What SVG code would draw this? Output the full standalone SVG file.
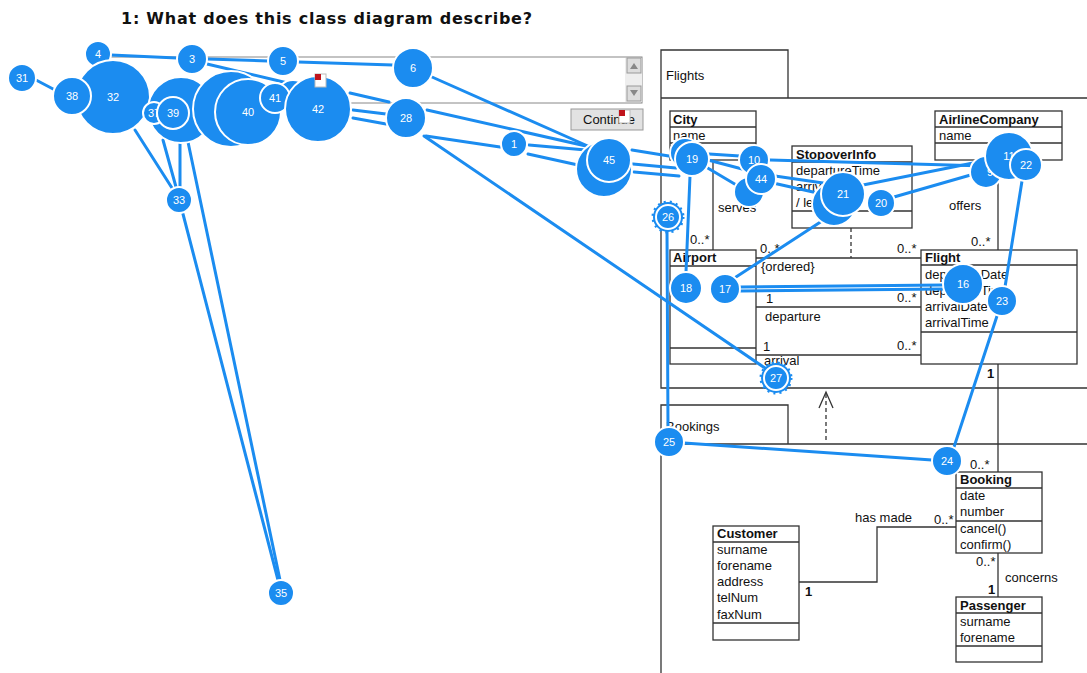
<svg xmlns="http://www.w3.org/2000/svg" width="1087" height="673" viewBox="0 0 1087 673">
<style>
.t{font-family:"Liberation Sans",Arial,sans-serif;font-size:13px;fill:#111}
.b{font-weight:bold}
.box{fill:#fff;stroke:#333;stroke-width:1.3}
.ln{fill:none;stroke:#333;stroke-width:1.3}
.sac{fill:none;stroke:#1b8cf0;stroke-width:3;stroke-linecap:round}
.fx{fill:#1b8cf0;stroke:#fff;stroke-width:2}
.fl{font-family:"Liberation Sans",Arial,sans-serif;font-size:11px;fill:#fff;text-anchor:middle}
</style>
<rect width="1087" height="673" fill="#fff"/>
<text x="121" y="24" font-family="DejaVu Sans,Verdana,sans-serif" font-weight="bold" font-size="16" fill="#111" textLength="411">1: What does this class diagram describe?</text>

<g id="answer-box">
<rect x="95" y="57" width="547" height="46" fill="#fff" stroke="#888" stroke-width="1"/>
<rect x="625" y="58" width="17" height="44" fill="#eee"/>
<rect x="627" y="58" width="14" height="15" fill="#ddd" stroke="#999"/>
<path d="M630,69 L634,63 L638,69 Z" fill="#888"/>
<rect x="627" y="86" width="14" height="15" fill="#ddd" stroke="#999"/>
<path d="M630,90 L634,96 L638,90 Z" fill="#888"/>
</g>
<g id="continue-button">
<rect x="571" y="109" width="72" height="21" fill="#e2e2e2" stroke="#999"/>
<text x="583" y="124" class="t">Continue</text>
<rect x="619" y="110" width="11" height="13" fill="#fff" stroke="#bbb"/>
<rect x="619" y="110" width="6" height="6" fill="#c0141c"/>
</g>

<g id="package-flights">
<path class="ln" d="M661,98 V50 H788 V98"/>
<path class="ln" d="M661,98 H1087 M661,98 V388 H1087"/>
<text x="666" y="80" class="t">Flights</text>
</g>
<g id="package-bookings">
<path class="ln" d="M661,444 V405 H788 V444"/>
<path class="ln" d="M661,444 H1087 M661,444 V673"/>
<text x="666" y="431" class="t">Bookings</text>
</g>

<g id="connectors">
<path class="ln" d="M713,160 V250"/>
<path class="ln" d="M998,160 V250"/>
<path class="ln" d="M756,258 H921 M756,307 H921 M756,355 H921"/>
<path class="ln" d="M851,228 V258" stroke-dasharray="4,3"/>
<path class="ln" d="M998,364 V472"/>
<path class="ln" d="M826,440 V392" stroke-dasharray="4,3"/>
<path class="ln" d="M819,408 L826,392 L833,408"/>
<path class="ln" d="M799,582 H877 V527 H956"/>
<path class="ln" d="M998,553 V597"/>
<text x="718" y="212" class="t">serves</text>
<text x="690" y="244" class="t">0..*</text>
<text x="949" y="210" class="t">offers</text>
<text x="971" y="246" class="t">0..*</text>
<text x="760" y="253" class="t">0..*</text>
<text x="897" y="253" class="t">0..*</text>
<text x="761" y="271" class="t">{ordered}</text>
<text x="766" y="303" class="t">1</text>
<text x="897" y="302" class="t">0..*</text>
<text x="765" y="321" class="t">departure</text>
<text x="763" y="351" class="t">1</text>
<text x="897" y="350" class="t">0..*</text>
<text x="764" y="365" class="t">arrival</text>
<text x="987" y="378" class="t b">1</text>
<text x="970" y="469" class="t">0..*</text>
<text x="855" y="522" class="t">has made</text>
<text x="934" y="524" class="t">0..*</text>
<text x="805" y="596" class="t b">1</text>
<text x="976" y="566" class="t">0..*</text>
<text x="988" y="594" class="t b">1</text>
<text x="1005" y="582" class="t">concerns</text>
</g>

<g id="class-city">
<rect class="box" x="670" y="111" width="86" height="49"/>
<path class="ln" d="M670,127 H756 M670,143 H756"/>
<text x="673" y="124" class="t b">City</text>
<text x="673" y="140" class="t">name</text>
</g>
<g id="class-airlinecompany">
<rect class="box" x="935" y="111" width="127" height="49"/>
<path class="ln" d="M935,127 H1062 M935,143 H1062"/>
<text x="939" y="124" class="t b">AirlineCompany</text>
<text x="939" y="140" class="t">name</text>
</g>
<g id="class-stopoverinfo">
<rect class="box" x="792" y="146" width="120" height="82"/>
<path class="ln" d="M792,162 H912 M792,211 H912"/>
<text x="796" y="159" class="t b">StopoverInfo</text>
<text x="796" y="175" class="t">departureTime</text>
<text x="796" y="191" class="t">arrivalTime</text>
<text x="796" y="207" class="t">/ length</text>
</g>
<g id="class-airport">
<rect class="box" x="670" y="250" width="86" height="114"/>
<path class="ln" d="M670,266 H756 M670,348 H756"/>
<text x="673" y="262" class="t b">Airport</text>
</g>
<g id="class-flight">
<rect class="box" x="921" y="250" width="156" height="114"/>
<path class="ln" d="M921,265 H1077 M921,332 H1077"/>
<text x="925" y="262" class="t b">Flight</text>
<text x="925" y="279" class="t">departureDate</text>
<text x="925" y="295" class="t">departureTime</text>
<text x="925" y="311" class="t">arrivalDate</text>
<text x="925" y="327" class="t">arrivalTime</text>
</g>
<g id="class-booking">
<rect class="box" x="956" y="472" width="86" height="81"/>
<path class="ln" d="M956,488 H1042 M956,521 H1042"/>
<text x="960" y="484" class="t b">Booking</text>
<text x="960" y="500" class="t">date</text>
<text x="960" y="516" class="t">number</text>
<text x="960" y="533" class="t">cancel()</text>
<text x="960" y="549" class="t">confirm()</text>
</g>
<g id="class-customer">
<rect class="box" x="713" y="526" width="86" height="114"/>
<path class="ln" d="M713,542 H799 M713,623 H799"/>
<text x="717" y="538" class="t b">Customer</text>
<text x="717" y="554" class="t">surname</text>
<text x="717" y="570" class="t">forename</text>
<text x="717" y="586" class="t">address</text>
<text x="717" y="602" class="t">telNum</text>
<text x="717" y="619" class="t">faxNum</text>
</g>
<g id="class-passenger">
<rect class="box" x="956" y="597" width="86" height="65"/>
<path class="ln" d="M956,613 H1042 M956,646 H1042"/>
<text x="960" y="610" class="t b">Passenger</text>
<text x="960" y="626" class="t">surname</text>
<text x="960" y="642" class="t">forename</text>
</g>

<g id="saccades">
<path class="sac" d="M36,80 L55,90"/>
<path class="sac" d="M111,55 L177,58"/>
<path class="sac" d="M207,59 L268,61"/>
<path class="sac" d="M298,62 L393,65"/>
<path class="sac" d="M207,64 L292,84"/>
<path class="sac" d="M432,77 L590,147"/>
<path class="sac" d="M632,150 L675,157"/>
<path class="sac" d="M350,93 L389,102"/>
<path class="sac" d="M353,110 L386,114"/>
<path class="sac" d="M353,118 L386,124"/>
<path class="sac" d="M427,110 L586,146"/>
<path class="sac" d="M426,136 L500,147"/>
<path class="sac" d="M529,145 L586,150"/>
<path class="sac" d="M528,154 L578,165"/>
<path class="sac" d="M424,136 L765,368"/>
<path class="sac" d="M633,164 L676,168"/>
<path class="sac" d="M634,172 L679,176"/>
<path class="sac" d="M709,154 L740,156"/>
<path class="sac" d="M708,160 L746,170"/>
<path class="sac" d="M706,167 L738,186"/>
<path class="sac" d="M770,160 L985,166"/>
<path class="sac" d="M775,176 L830,184"/>
<path class="sac" d="M773,183 L822,194"/>
<path class="sac" d="M858,186 L988,160"/>
<path class="sac" d="M894,197 L988,170"/>
<path class="sac" d="M690,176 L686,272"/>
<path class="sac" d="M667,230 L668,428"/>
<path class="sac" d="M822,221 L736,277"/>
<path class="sac" d="M740,287 L944,285"/>
<path class="sac" d="M740,291 L944,289"/>
<path class="sac" d="M1022,181 L1005,287"/>
<path class="sac" d="M997,316 L954,447"/>
<path class="sac" d="M932,460 L684,443"/>
<path class="sac" d="M135,130 L172,188"/>
<path class="sac" d="M163,140 L176,187"/>
<path class="sac" d="M180,142 L180,187"/>
<path class="sac" d="M188,142 L280,580"/>
<path class="sac" d="M183,214 L278,580"/>
</g>

<g id="fixations">
<g id="f31"><circle class="fx" cx="22" cy="78" r="14"/><text class="fl" x="22" y="82">31</text></g>
<g id="f4"><circle class="fx" cx="98" cy="54" r="13"/><text class="fl" x="98" y="58">4</text></g>
<g id="f3"><circle class="fx" cx="192" cy="59" r="15"/><text class="fl" x="192" y="63">3</text></g>
<g id="f5"><circle class="fx" cx="283" cy="61" r="15"/><text class="fl" x="283" y="65">5</text></g>
<g id="f6"><circle class="fx" cx="413" cy="68" r="20"/><text class="fl" x="413" y="72">6</text></g>
<g id="f32"><circle class="fx" cx="113" cy="97" r="37"/><text class="fl" x="113" y="101">32</text></g>
<g id="f38"><circle class="fx" cx="72" cy="96" r="19"/><text class="fl" x="72" y="100">38</text></g>
<g id="f-a"><circle class="fx" cx="181" cy="110" r="33"/></g>
<g id="f37"><circle class="fx" cx="154" cy="113" r="11"/><text class="fl" x="154" y="117">37</text></g>
<g id="f39"><circle class="fx" cx="173" cy="113" r="16"/><text class="fl" x="173" y="117">39</text></g>
<g id="f-b"><circle class="fx" cx="231" cy="109" r="38"/></g>
<g id="f40"><circle class="fx" cx="248" cy="112" r="33"/><text class="fl" x="248" y="116">40</text></g>
<g id="f-c"><circle class="fx" cx="293" cy="96" r="16"/></g>
<g id="f41"><circle class="fx" cx="275" cy="98" r="15"/><text class="fl" x="275" y="102">41</text></g>
<g id="f42"><circle class="fx" cx="318" cy="109" r="33"/><text class="fl" x="318" y="113">42</text></g>
<g id="f28"><circle class="fx" cx="406" cy="118" r="20"/><text class="fl" x="406" y="122">28</text></g>
<g id="f1"><circle class="fx" cx="514" cy="144" r="13"/><text class="fl" x="514" y="148">1</text></g>
<g id="f-d"><circle class="fx" cx="604" cy="169" r="28"/></g>
<g id="f45"><circle class="fx" cx="609" cy="160" r="22"/><text class="fl" x="609" y="164">45</text></g>
<g id="f33"><circle class="fx" cx="179" cy="200" r="13"/><text class="fl" x="179" y="204">33</text></g>
<g id="f35"><circle class="fx" cx="281" cy="593" r="13"/><text class="fl" x="281" y="597">35</text></g>
<g id="f26"><circle cx="668" cy="217" r="15" fill="#1b8cf0" stroke="#1b8cf0" stroke-width="3" stroke-dasharray="2,4"/><circle class="fx" cx="668" cy="217" r="12" stroke="none"/><text class="fl" x="668" y="221">26</text></g>
<g id="f-e"><circle class="fx" cx="685" cy="153" r="15"/></g>
<g id="f19"><circle class="fx" cx="692" cy="159" r="17"/><text class="fl" x="692" y="163">19</text></g>
<g id="f10"><circle class="fx" cx="754" cy="160" r="15"/><text class="fl" x="754" y="164">10</text></g>
<g id="f-f"><circle class="fx" cx="749" cy="192" r="15"/></g>
<g id="f44"><circle class="fx" cx="761" cy="179" r="15"/><text class="fl" x="761" y="183">44</text></g>
<g id="f-g"><circle class="fx" cx="834" cy="204" r="22"/></g>
<g id="f21"><circle class="fx" cx="843" cy="194" r="22"/><text class="fl" x="843" y="198">21</text></g>
<g id="f20"><circle class="fx" cx="881" cy="203" r="14"/><text class="fl" x="881" y="207">20</text></g>
<g id="f9"><circle class="fx" cx="986" cy="172" r="16"/><text class="fl" x="990" y="176">9</text></g>
<g id="f11"><circle class="fx" cx="1009" cy="156" r="24"/><text class="fl" x="1009" y="160">11</text></g>
<g id="f22"><circle class="fx" cx="1026" cy="165" r="16"/><text class="fl" x="1026" y="169">22</text></g>
<g id="f18"><circle class="fx" cx="686" cy="288" r="16"/><text class="fl" x="686" y="292">18</text></g>
<g id="f17"><circle class="fx" cx="725" cy="289" r="15"/><text class="fl" x="725" y="293">17</text></g>
<g id="f16"><circle class="fx" cx="963" cy="284" r="20"/><text class="fl" x="963" y="288">16</text></g>
<g id="f23"><circle class="fx" cx="1002" cy="301" r="15"/><text class="fl" x="1002" y="305">23</text></g>
<g id="f27"><circle cx="776" cy="378" r="15" fill="#1b8cf0" stroke="#1b8cf0" stroke-width="3" stroke-dasharray="2,4"/><circle class="fx" cx="776" cy="378" r="12" stroke="none"/><text class="fl" x="776" y="382">27</text></g>
<g id="f24"><circle class="fx" cx="947" cy="461" r="15"/><text class="fl" x="947" y="465">24</text></g>
<g id="f25"><circle class="fx" cx="669" cy="442" r="15"/><text class="fl" x="669" y="446">25</text></g>
</g>
<g id="cursor-icon">
<rect x="315" y="74" width="11" height="13" fill="#fff" stroke="#bbb"/>
<rect x="315" y="74" width="6" height="6" fill="#c0141c"/>
</g>
</svg>
